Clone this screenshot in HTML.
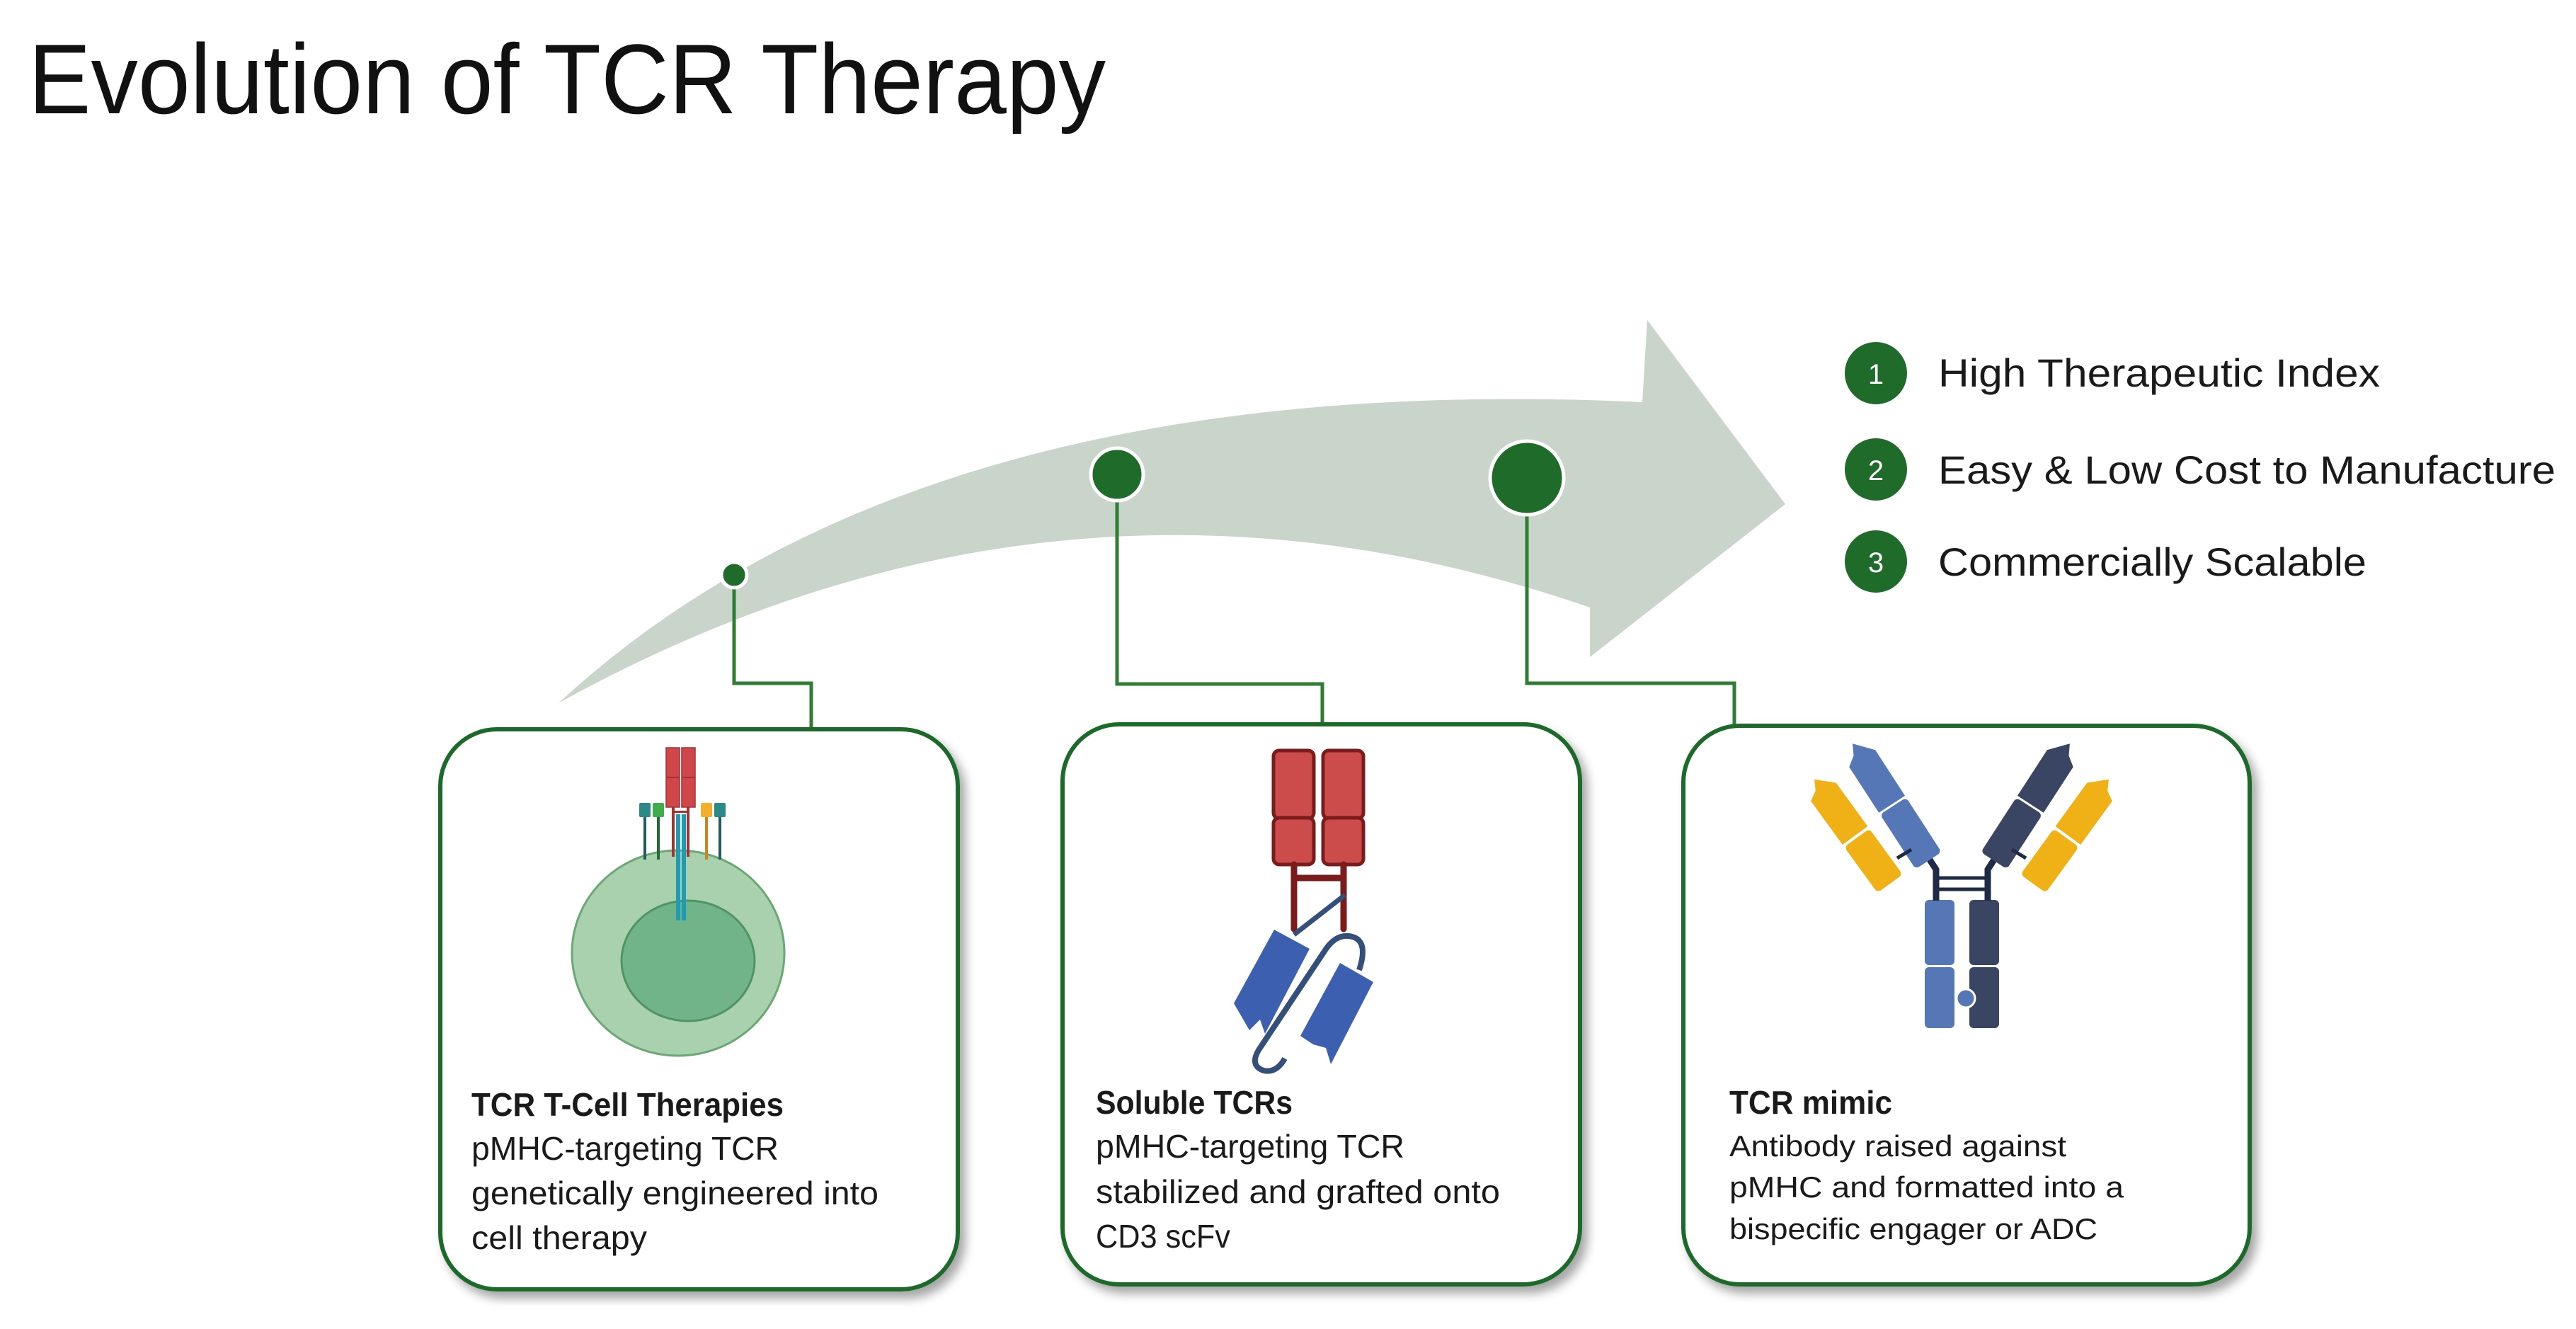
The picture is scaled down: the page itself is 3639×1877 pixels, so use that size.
<!DOCTYPE html>
<html><head><meta charset="utf-8"><style>
html,body{margin:0;padding:0;background:#fff}
svg{display:block}
text{font-family:"Liberation Sans",sans-serif}
</style></head><body>
<svg width="3639" height="1877" viewBox="0 0 3639 1877" xmlns="http://www.w3.org/2000/svg">
<defs>
<filter id="sh" x="-10%" y="-10%" width="125%" height="125%">
<feDropShadow dx="8" dy="10" stdDeviation="7" flood-color="#000" flood-opacity="0.35"/>
</filter>
</defs>
<text x="40" y="160" font-size="140" fill="#111" textLength="1522" lengthAdjust="spacingAndGlyphs">Evolution of TCR Therapy</text>

<!-- big arrow -->
<path d="M789,993 Q1300,520 2320,568 L2327,452 L2522,712 L2246,928 L2246,858 Q1500,600 789,993 Z" fill="#c9d5cb"/>

<!-- connectors -->
<g stroke="#2e7d32" stroke-width="5" fill="none">
<polyline points="1037,812 1037,965 1146,965 1146,1030"/>
<polyline points="1578,670 1578,966 1868,966 1868,1023"/>
<polyline points="2157,675 2157,965 2450,965 2450,1025"/>
</g>
<circle cx="1037" cy="812" r="18" fill="#1e6b2a" stroke="#fff" stroke-width="5"/>
<circle cx="1578" cy="670" r="37" fill="#1e6b2a" stroke="#fff" stroke-width="5"/>
<circle cx="2157" cy="675" r="52" fill="#1e6b2a" stroke="#fff" stroke-width="5"/>

<!-- list -->
<g font-size="56" fill="#1a1a1a">
<circle cx="2650" cy="527" r="44" fill="#1e6b2a"/>
<text x="2650" y="542" font-size="40" fill="#fff" text-anchor="middle">1</text>
<text x="2738" y="546" textLength="624" lengthAdjust="spacingAndGlyphs">High Therapeutic Index</text>
<circle cx="2650" cy="663" r="44" fill="#1e6b2a"/>
<text x="2650" y="678" font-size="40" fill="#fff" text-anchor="middle">2</text>
<text x="2738" y="683" textLength="872" lengthAdjust="spacingAndGlyphs">Easy &amp; Low Cost to Manufacture</text>
<circle cx="2650" cy="793" r="44" fill="#1e6b2a"/>
<text x="2650" y="808" font-size="40" fill="#fff" text-anchor="middle">3</text>
<text x="2738" y="813" textLength="605" lengthAdjust="spacingAndGlyphs">Commercially Scalable</text>
</g>

<!-- boxes -->
<g fill="#fff" stroke="#1e6b2a" stroke-width="6" filter="url(#sh)">
<rect x="622" y="1030" width="731" height="791" rx="80"/>
<rect x="1501" y="1023" width="731" height="791" rx="80"/>
<rect x="2378" y="1025" width="800" height="789" rx="80"/>
</g>

<!-- box1 cell -->
<ellipse cx="958" cy="1346" rx="150" ry="145" fill="#a9d1ae" stroke="#6aa874" stroke-width="3"/>
<ellipse cx="972" cy="1357" rx="94" ry="85" fill="#72b48a" stroke="#4f9465" stroke-width="3"/>
<g>
<rect x="943" y="1074" width="17" height="2" fill="#000" opacity="0"/>
<rect x="941" y="1056" width="19" height="84" fill="#d0464a" stroke="#a03336" stroke-width="1.5"/>
<rect x="963" y="1056" width="19" height="84" fill="#d0464a" stroke="#a03336" stroke-width="1.5"/>
<line x1="941" y1="1098" x2="960" y2="1098" stroke="#a03336" stroke-width="2"/>
<line x1="963" y1="1098" x2="982" y2="1098" stroke="#a03336" stroke-width="2"/>
<rect x="949" y="1140" width="4" height="70" fill="#a03336"/>
<rect x="970" y="1140" width="4" height="70" fill="#a03336"/>
<rect x="953" y="1145" width="17" height="3" fill="#a03336"/>
<rect x="955" y="1150" width="6" height="150" fill="#1f9bb3"/>
<rect x="963" y="1150" width="6" height="150" fill="#1f9bb3"/>
<rect x="903" y="1134" width="16" height="20" fill="#2a8a88" rx="2"/><rect x="909" y="1154" width="4" height="60" fill="#1f5e5c"/>
<rect x="922" y="1134" width="16" height="20" fill="#3fae4a" rx="2"/><rect x="928" y="1154" width="4" height="60" fill="#1f6b30"/>
<rect x="990" y="1134" width="16" height="20" fill="#f2b02e" rx="2"/><rect x="996" y="1154" width="4" height="60" fill="#c48820"/>
<rect x="1009" y="1134" width="16" height="20" fill="#2a8a88" rx="2"/><rect x="1015" y="1154" width="4" height="60" fill="#1f5e5c"/>
</g>

<!-- box2 soluble TCR -->
<g stroke="#7a1c1c" stroke-width="5" fill="#cc4c4c">
<rect x="1799" y="1060" width="57" height="96" rx="8"/>
<rect x="1799" y="1155" width="57" height="66" rx="8"/>
<rect x="1869" y="1060" width="57" height="96" rx="8"/>
<rect x="1869" y="1155" width="57" height="66" rx="8"/>
</g>
<g stroke="#7a1c1c" stroke-width="9" fill="none" stroke-linecap="round">
<line x1="1828" y1="1221" x2="1828" y2="1312"/>
<line x1="1898" y1="1221" x2="1898" y2="1312"/>
<line x1="1828" y1="1240" x2="1898" y2="1240"/>
</g>
<line x1="1828" y1="1320" x2="1900" y2="1264" stroke="#34507a" stroke-width="7"/>
<path d="M1920,1370 Q1935,1325 1905,1322 Q1885,1320 1870,1345 L1778,1483 Q1765,1505 1785,1512 Q1803,1516 1815,1495" fill="none" stroke="#34507a" stroke-width="8"/>
<polygon points="1800,1313 1850,1340 1787,1460 1780,1440 1765,1455 1743,1417" fill="#3d5fb0"/>
<polygon points="1893,1360 1940,1387 1880,1503 1873,1480 1855,1475 1837,1463" fill="#3d5fb0"/>

<!-- box3 antibody -->
<g>
<rect x="2719" y="1271" width="42" height="92" rx="6" fill="#5577b5"/>
<rect x="2719" y="1366" width="42" height="86" rx="6" fill="#5577b5"/>
<rect x="2782" y="1271" width="42" height="92" rx="6" fill="#3a4563"/>
<rect x="2782" y="1366" width="42" height="86" rx="6" fill="#3a4563"/>
<circle cx="2777" cy="1410" r="13" fill="#5577b5" stroke="#fff" stroke-width="3"/>
<path d="M2735,1272 L2735,1228 L2722,1208" stroke="#1f2a44" stroke-width="9" fill="none"/>
<path d="M2808,1272 L2808,1228 L2821,1208" stroke="#1f2a44" stroke-width="9" fill="none"/>
<line x1="2737" y1="1240" x2="2806" y2="1240" stroke="#1f2a44" stroke-width="5"/>
<line x1="2737" y1="1256" x2="2806" y2="1256" stroke="#1f2a44" stroke-width="5"/>
<g transform="translate(2726,1218) rotate(-33)">
<rect x="-22" y="-95" width="44" height="92" rx="6" fill="#5577b5"/>
<path d="M-22,-98 L-22,-175 L-8,-185 L0,-200 L22,-175 L22,-98 Z" fill="#5577b5"/>
</g>
<g transform="translate(2670,1248) rotate(-36)">
<rect x="-22" y="-80" width="44" height="80" rx="6" fill="#efb116"/>
<path d="M-22,-84 L-22,-160 L-8,-168 L0,-182 L22,-160 L22,-84 Z" fill="#efb116"/>
</g>
<g transform="translate(2815,1218) rotate(33)">
<rect x="-22" y="-95" width="44" height="92" rx="6" fill="#3a4563"/>
<path d="M-22,-98 L-22,-175 L0,-200 L8,-185 L22,-175 L22,-98 Z" fill="#3a4563"/>
</g>
<g transform="translate(2872,1248) rotate(36)">
<rect x="-22" y="-80" width="44" height="80" rx="6" fill="#efb116"/>
<path d="M-22,-84 L-22,-160 L0,-182 L8,-168 L22,-160 L22,-84 Z" fill="#efb116"/>
</g>
<line x1="2700" y1="1200" x2="2680" y2="1212" stroke="#1f2a44" stroke-width="5"/>
<line x1="2842" y1="1200" x2="2862" y2="1212" stroke="#1f2a44" stroke-width="5"/>
</g>

<!-- texts -->
<g font-size="46" fill="#1a1a1a">
<text x="666" y="1576" font-weight="bold" textLength="441" lengthAdjust="spacingAndGlyphs">TCR T-Cell Therapies</text>
<text x="666" y="1638" textLength="434" lengthAdjust="spacingAndGlyphs">pMHC-targeting TCR</text>
<text x="666" y="1701" textLength="575" lengthAdjust="spacingAndGlyphs">genetically engineered into</text>
<text x="666" y="1764" textLength="248" lengthAdjust="spacingAndGlyphs">cell therapy</text>

<text x="1548" y="1573" font-weight="bold" textLength="278" lengthAdjust="spacingAndGlyphs">Soluble TCRs</text>
<text x="1548" y="1635" textLength="436" lengthAdjust="spacingAndGlyphs">pMHC-targeting TCR</text>
<text x="1548" y="1699" textLength="571" lengthAdjust="spacingAndGlyphs">stabilized and grafted onto</text>
<text x="1548" y="1762" textLength="190" lengthAdjust="spacingAndGlyphs">CD3 scFv</text>

<text x="2443" y="1573" font-weight="bold" textLength="230" lengthAdjust="spacingAndGlyphs">TCR mimic</text>
<text x="2443" y="1633" font-size="42" textLength="476" lengthAdjust="spacingAndGlyphs">Antibody raised against</text>
<text x="2443" y="1691" font-size="42" textLength="557" lengthAdjust="spacingAndGlyphs">pMHC and formatted into a</text>
<text x="2443" y="1750" font-size="42" textLength="520" lengthAdjust="spacingAndGlyphs">bispecific engager or ADC</text>
</g>
</svg>
</body></html>
